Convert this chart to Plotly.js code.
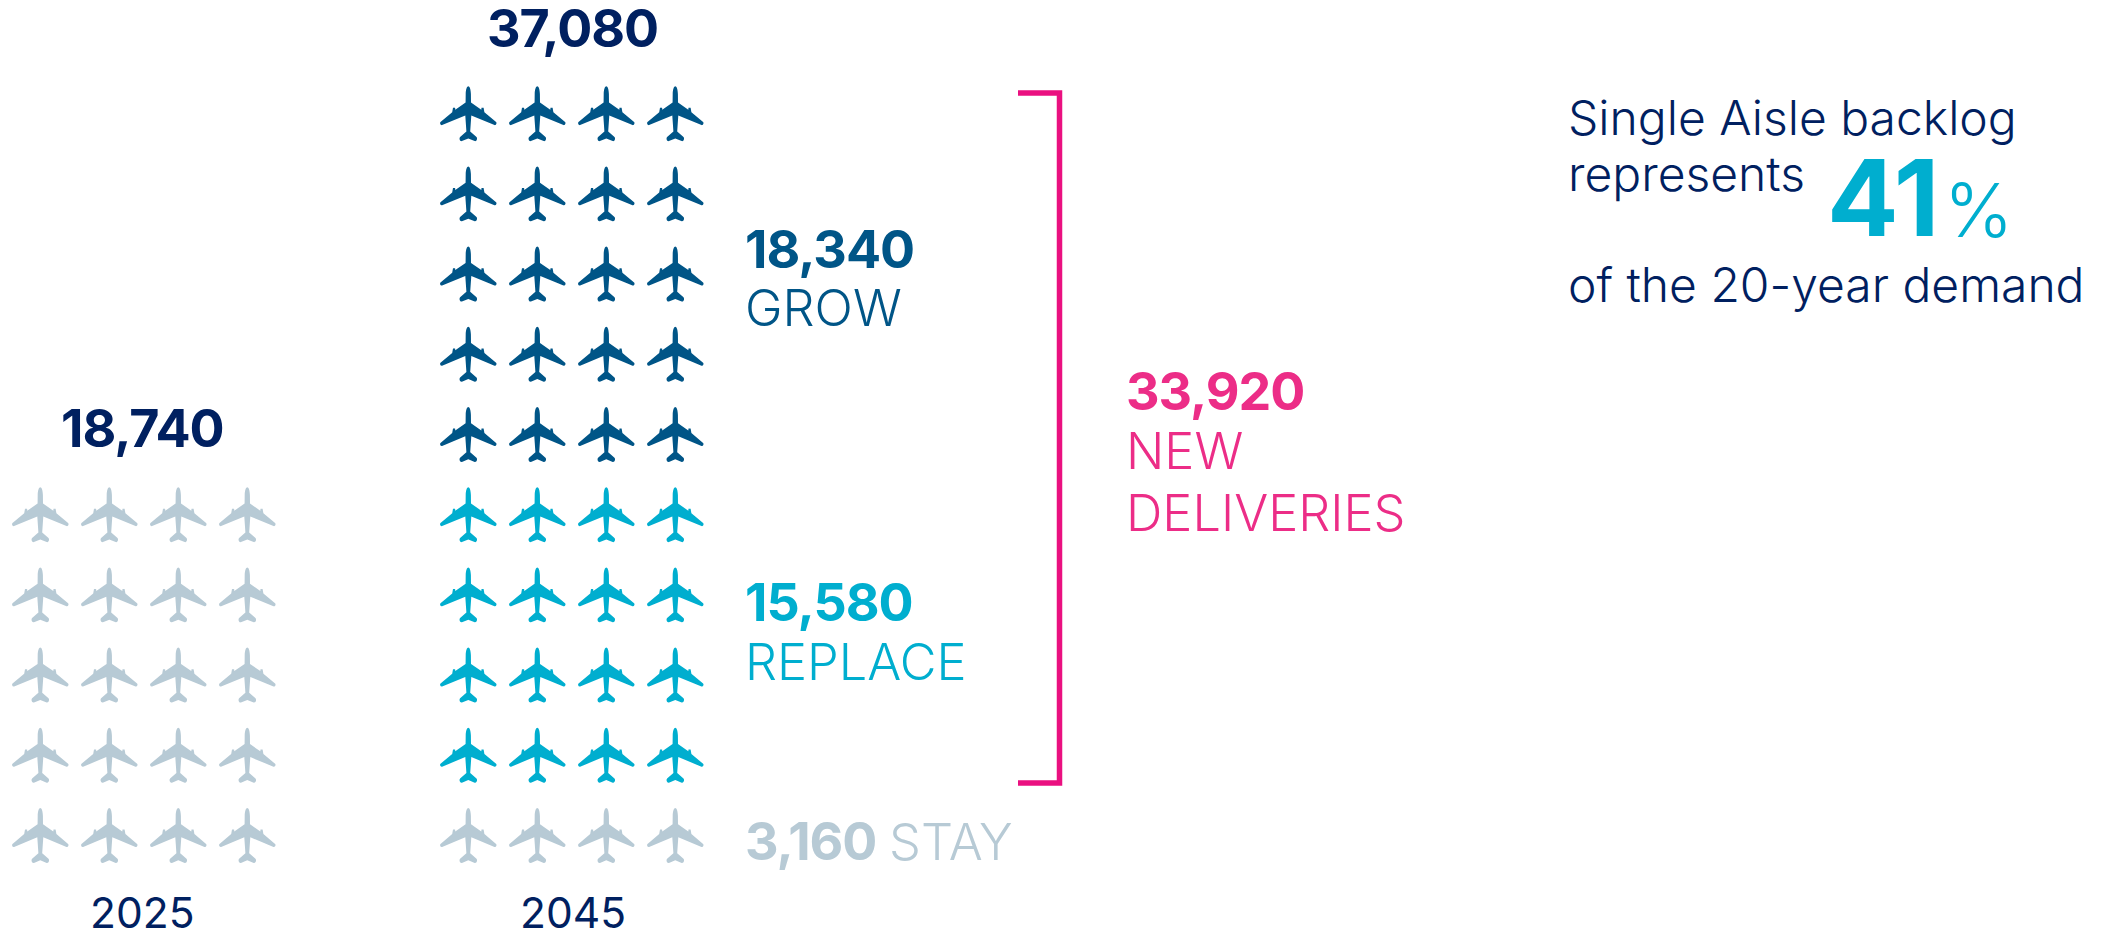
<!DOCTYPE html>
<html>
<head>
<meta charset="utf-8">
<script src="https://cdn.plot.ly/plotly-3.0.1.min.js"></script>
<style>
html,body{margin:0;padding:0;background:#fff;overflow:hidden}
#chart{width:2108px;height:931px}
.annotation-text[style*="font-weight: 700"]{letter-spacing:-1px}
</style>
</head>
<body>
<div id="chart"></div>
<script>
// ---- data ----
const years = ['2025', '2045'];
const totals = [18740, 37080];
const segmentNames = ['STAY', 'REPLACE', 'GROW'];
const segmentValues = [3160, 15580, 18340];
const rows2025 = [5];             // rows of icons: all staying fleet
const rows2045 = [1, 4, 5];       // rows of icons: stay, replace, grow
const iconsPerRow = 4;
const newDeliveries = 33920;
const backlogShare = 41;

// ---- styles ----
const NAVY = '#002060', BLUE = '#005587', TEAL = '#00AECF', GREY = '#B7CAD5', PINK = '#EC2D87', BRACKET = '#EA1080';
const FONT = 'Inter';
const W = 2108, H = 931;
const colStep = 69, rowStep = 80.2, row0 = 835.7;
const groupStart = [40.3 / colStep, 468.3 / colStep];
const segColors = [GREY, TEAL, BLUE];

// Plane glyph, right half, in pixels from its centre (y downward)
const half = [
  ['C', 1.2, -27.7, 2.5, -25, 2.6, -20],
  ['L', 2.7, -11.4], ['L', 13, -4.2], ['L', 13.2, -6.1], ['L', 15.3, -6.1], ['L', 16.1, -1.6],
  ['L', 27.8, 8.2], ['C', 28.8, 9.2, 28, 11.6, 26.2, 11.2],
  ['L', 3, 1.6], ['L', 1.9, 17.5], ['L', 8.2, 23], ['C', 9.4, 24.2, 8.6, 27.6, 6.4, 27.2], ['L', 0, 24.6]
];
function planePath() {
  const f = n => (Math.round(n * 100) / 100);
  let d = 'M0,' + f(27.7);
  half.forEach(s => {
    if (s[0] === 'L') d += ' L' + f(s[1]) + ',' + f(-s[2]);
    else d += ' C' + f(s[1]) + ',' + f(-s[2]) + ' ' + f(s[3]) + ',' + f(-s[4]) + ' ' + f(s[5]) + ',' + f(-s[6]);
  });
  // mirror, walking back to the nose
  const pts = [[0, -27.7]];
  half.forEach(s => pts.push(s[0] === 'L' ? [s[1], s[2]] : [s[5], s[6]]));
  for (let i = half.length - 1; i >= 0; i--) {
    const s = half[i], p = pts[i];
    if (s[0] === 'L') d += ' L' + f(-p[0]) + ',' + f(-p[1]);
    else d += ' C' + f(-s[3]) + ',' + f(-s[4]) + ' ' + f(-s[1]) + ',' + f(-s[2]) + ' ' + f(-p[0]) + ',' + f(-p[1]);
  }
  return d + ' Z';
}
const PLANE = planePath();

const shapes = [], traces = [];
function addGroup(groupIdx, rowsBySegment, colorList, nameList) {
  let row = 0;
  rowsBySegment.forEach((n, s) => {
    const xs = [], ys = [];
    for (let r = 0; r < n; r++, row++) {
      for (let c = 0; c < iconsPerRow; c++) {
        const x = groupStart[groupIdx] + c, y = row;
        xs.push(x); ys.push(y);
        shapes.push({
          type: 'path', xref: 'x', yref: 'y', xsizemode: 'pixel', ysizemode: 'pixel',
          xanchor: x, yanchor: y, path: PLANE, fillcolor: colorList[s],
          line: {width: 0}, layer: 'above'
        });
      }
    }
    traces.push({
      type: 'scatter', mode: 'markers', x: xs, y: ys, name: years[groupIdx] + ' ' + nameList[s],
      marker: {size: 40, color: colorList[s], opacity: 0},
      hoverinfo: 'name', showlegend: false
    });
  });
}
addGroup(0, rows2025, [GREY], ['STAY']);
addGroup(1, rows2045, segColors, segmentNames);

// bracket around replace + grow
shapes.push({
  type: 'path', xref: 'paper', yref: 'paper',
  path: 'M' + 1018 / W + ',' + (1 - 93 / H) + ' L' + 1059.5 / W + ',' + (1 - 93 / H) +
        ' L' + 1059.5 / W + ',' + (1 - 783 / H) + ' L' + 1018 / W + ',' + (1 - 783 / H),
  line: {color: BRACKET, width: 5.5}, fillcolor: 'rgba(0,0,0,0)'
});

const fmt = v => v.toLocaleString('en-US');
function label(text, px, py, size, weight, color, anchor) {
  return {
    text: text, xref: 'paper', yref: 'paper', x: px / W, y: 1 - py / H,
    xanchor: anchor || 'left', yanchor: 'middle', showarrow: false, borderpad: 0, borderwidth: 0,
    font: {family: FONT, size: size, weight: weight, color: color}
  };
}
const BIG = 52, SUB = 50.5, TXT = 48, LIGHT = 270;
const annotations = [
  label(fmt(totals[0]), 142, 429, BIG, 700, NAVY, 'center'),
  label(fmt(totals[1]), 572, 28, BIG, 700, NAVY, 'center'),
  label(years[0], 142, 912.5, 42.5, 400, NAVY, 'center'),
  label(years[1], 573, 912.5, 42.5, 400, NAVY, 'center'),
  label(fmt(segmentValues[2]), 745, 249, BIG, 700, BLUE),
  label(segmentNames[2], 745, 307, SUB, LIGHT, BLUE),
  label(fmt(segmentValues[1]), 745, 602, BIG, 700, TEAL),
  label(segmentNames[1], 745, 661, SUB, LIGHT, TEAL),
  label(fmt(segmentValues[0]), 745, 841, BIG, 700, GREY),
  label(segmentNames[0], 889, 841, SUB, LIGHT, GREY),
  label(fmt(newDeliveries), 1126, 391, BIG, 700, PINK),
  label('NEW', 1126, 451, SUB, LIGHT, PINK),
  label('DELIVERIES', 1126, 512, SUB, LIGHT, PINK),
  label('Single Aisle backlog', 1568, 117, TXT, LIGHT, NAVY),
  label('represents', 1568, 174, TXT, LIGHT, NAVY),
  label('of the 20-year demand', 1568, 284, TXT, LIGHT, NAVY),
  label(String(backlogShare), 1827, 197, 106, 700, TEAL),
  label('%', 1944, 210, 74, LIGHT, TEAL)
];

Plotly.newPlot('chart', traces, {
  width: W, height: H, margin: {l: 0, r: 0, t: 0, b: 0},
  paper_bgcolor: '#fff', plot_bgcolor: '#fff', showlegend: false,
  xaxis: {visible: false, range: [0, W / colStep], fixedrange: true},
  yaxis: {visible: false, range: [-(H - row0) / rowStep, row0 / rowStep], fixedrange: true},
  shapes: shapes, annotations: annotations
}, {displayModeBar: false, responsive: false});
</script>
</body>
</html>
